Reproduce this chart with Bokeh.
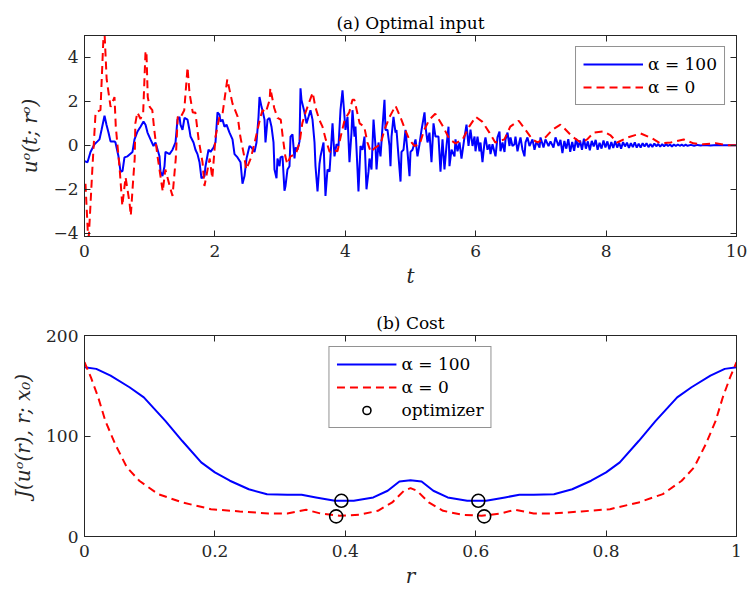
from bokeh.plotting import figure
from bokeh.models import LinearAxis, FixedTicker, Range1d
from bokeh.layouts import column
from bokeh.embed import file_html
from bokeh.resources import INLINE

FONT = "DejaVu Serif"
AXC = "#262626"

# ---------------- data: panel (a) ----------------
t_a100 = [0.0, 0.046, 0.092, 0.153, 0.199, 0.23, 0.261, 0.307, 0.337, 0.368, 0.399, 0.46, 0.475, 0.521, 0.552,
          0.583, 0.613, 0.66, 0.736, 0.767, 0.813, 0.859, 0.905, 0.936, 0.966, 1.012, 1.058, 1.089, 1.15, 1.166,
          1.196, 1.227, 1.242, 1.304, 1.35, 1.396, 1.426, 1.457, 1.472, 1.503, 1.534, 1.58, 1.61, 1.626, 1.672,
          1.702, 1.733, 1.764, 1.794, 1.84, 1.856, 1.902, 1.933, 1.979, 2.009, 2.04, 2.071, 2.086, 2.117, 2.147,
          2.178, 2.224, 2.27, 2.301, 2.347, 2.393, 2.423, 2.454, 2.485, 2.531, 2.561, 2.607, 2.638, 2.669, 2.684,
          2.715, 2.73, 2.761, 2.776, 2.807, 2.837, 2.868, 2.899, 2.914, 2.945, 2.96, 2.991, 3.006, 3.037, 3.067,
          3.083, 3.113, 3.144, 3.16, 3.19, 3.221, 3.236, 3.267, 3.298, 3.313, 3.328, 3.374, 3.405, 3.436, 3.466,
          3.497, 3.528, 3.543, 3.574, 3.604, 3.62, 3.666, 3.696, 3.727, 3.758, 3.773, 3.804, 3.834, 3.865, 3.896,
          3.926, 3.957, 3.988, 4.003, 4.034, 4.064, 4.095, 4.11, 4.141, 4.156, 4.187, 4.202, 4.233, 4.264, 4.294,
          4.325, 4.356, 4.371, 4.402, 4.433, 4.463, 4.479, 4.509, 4.54, 4.571, 4.601, 4.617, 4.647, 4.678, 4.693,
          4.709, 4.739, 4.77, 4.785, 4.816, 4.847, 4.862, 4.893, 4.923, 4.954, 4.985, 5.0, 5.031, 5.077, 5.107,
          5.138, 5.169, 5.215, 5.23, 5.261, 5.291, 5.322, 5.353, 5.383, 5.429, 5.46, 5.491, 5.521, 5.552, 5.583,
          5.598, 5.629, 5.675, 5.69, 5.721, 5.752, 5.782, 5.828, 5.859, 5.89, 5.92, 5.951, 5.982, 5.997, 6.028,
          6.058, 6.074, 6.104, 6.135, 6.15, 6.181, 6.212, 6.227, 6.258, 6.304, 6.334, 6.365, 6.38, 6.411, 6.442,
          6.457, 6.488, 6.518, 6.534, 6.564, 6.595, 6.61, 6.641, 6.672, 6.687, 6.718, 6.748, 6.764, 6.794, 6.825,
          6.871, 6.902, 6.933, 6.979, 6.994, 7.04, 7.07, 7.117, 7.147, 7.193, 7.224, 7.27,
          7.30, 7.33, 7.36, 7.39, 7.42, 7.45, 7.48, 7.51, 7.54, 7.57, 7.60, 7.63, 7.66, 7.69, 7.72, 7.75, 7.78,
          7.81, 7.84, 7.87, 7.90, 7.93, 7.96, 7.99, 8.02, 8.05, 8.08, 8.11, 8.14, 8.17, 8.20, 8.23, 8.26, 8.29,
          8.32, 8.35, 8.38, 8.41, 8.44, 8.47, 8.50, 8.53, 8.56, 8.59, 8.62, 8.65, 8.68, 8.71, 8.74, 8.77, 8.80,
          8.83, 8.86, 8.89, 8.92, 8.95, 8.98, 9.01, 9.04, 9.07, 9.10, 9.13, 9.16, 9.19, 9.22, 9.25, 9.30, 9.35,
          9.40, 9.45, 9.50, 9.60, 9.70, 9.80, 10.0]
u_a100 = [-0.72, -0.77, -0.3, 0.05, 0.18, 0.27, 0.7, 1.35, 0.94, 0.58, 0.18, 0.18, 0.13, -0.5, -1.2,
          -1.17, -0.55, -0.5, -0.3, 0.27, 0.63, 0.85, 1.08, 0.94, 0.58, 0.27, -0.03, 0.13, -0.5, -1.2,
          -1.4, -0.95, -0.3, -0.4, -0.2, 0.13, 1.17, 1.3, 0.94, 0.7, 1.25, 1.17, 0.7, 0.4, 0.13,
          -0.2, -0.4, -0.77, -1.5, -1.4, -0.95, -0.2, -0.3, -0.1, 0.13, 1.5, 1.4, 1.08, 1.17, 0.85,
          0.94, 0.58, 0.27, -0.4, -0.55, -0.77, -1.75, -1.4, -0.6, -0.03, -0.1, -0.3, 0.13, 1.3, 2.2,
          1.75, 1.6, 1.17, 0.13, 1.17, 1.25, 0.85, 0.13, -1.1, -1.5, -0.6, -0.95, -0.55, -0.5, -2.07,
          -1.85, -1.1, -0.95, 0.4, 0.5, -0.6, -0.1, -0.2, 0.18, 2.6, 2.07, 1.5, 1.0, 1.3, 1.6,
          1.17, 0.13, -0.95, -2.1, -0.85, -0.5, 0.13, -2.3, -1.1, -1.2, -0.5, 1.0, -0.5, 0.05, -0.03,
          1.6, 2.5, 1.3, 0.7, 1.3, -0.77, 0.58, 1.6, 0.4, 0.85, -1.1, -2.1, -0.03, -0.2, 0.4,
          -2.0, -1.2, -0.6, -1.1, 1.17, -0.03, -1.1, 0.13, -0.5, 0.85, 2.07, 0.7, 0.7, -0.03, -0.95,
          0.4, 1.3, 0.58, 0.7, -0.5, -1.65, -0.3, -0.2, 0.7, -0.3, -1.4, -0.3, -0.2, 0.27, -0.5,
          0.05, 0.7, 1.5, 0.85, 0.13, 0.58, -0.77, 1.0, 0.4, 0.4, -1.2, 0.27, -1.1, -0.03, 0.85,
          -0.95, -0.2, -0.5, 0.27, -0.27, 0.13, -0.6, 0.36, 0.94, -0.03, 0.72, -0.03, 0.4, -0.27, 0.4,
          -0.27, 0.13, -0.77, 0.13, 0.36, -0.2, 0.05, -0.4, 0.05, -0.5, 0.36, 0.63, -0.27, 0.13, -0.3,
          0.27, 0.58, -0.03, 0.36, -0.03, 0.05, 0.4, -0.27, 0.18, 0.36, -0.2, -0.5, 0.13, 0.36, -0.03,
          0.27, -0.2, 0.18, -0.1, 0.36, -0.1, 0.27, -0.03, 0.18, -0.1, 0.36, -0.03,
          0.25, -0.35, 0.2, -0.15, 0.28, -0.3, 0.15, -0.25, 0.3, -0.1, 0.22, -0.2, 0.3, -0.15, 0.18, -0.22, 0.2,
          -0.05, 0.25, -0.2, 0.12, -0.15, 0.22, -0.1, 0.18, -0.18, 0.15, -0.12, 0.2, -0.1, 0.12, -0.15, 0.15, -0.05,
          0.12, -0.12, 0.1, -0.08, 0.14, -0.1, 0.08, -0.1, 0.1, -0.05, 0.1, -0.08, 0.06, -0.07, 0.08, -0.04, 0.06,
          -0.06, 0.05, -0.04, 0.06, -0.03, 0.04, -0.05, 0.04, -0.03, 0.04, -0.02, 0.03, -0.03, 0.03, -0.02, 0.02, -0.02,
          0.02, -0.01, 0.01, -0.01, 0.01, 0.0, 0.0]

t_a0 = [0.015, 0.06, 0.12, 0.17, 0.245, 0.30, 0.34, 0.40, 0.46, 0.48, 0.54, 0.58, 0.63, 0.69, 0.71, 0.74,
        0.77, 0.78, 0.81, 0.86, 0.90, 0.935, 0.95, 0.97, 1.0, 1.04, 1.07, 1.12, 1.17, 1.20, 1.24, 1.32,
        1.35, 1.40, 1.43, 1.47, 1.53, 1.58, 1.61, 1.66, 1.70, 1.75, 1.81, 1.84, 1.92, 1.96, 2.01, 2.07,
        2.12, 2.19, 2.27, 2.35, 2.39, 2.45, 2.48, 2.55, 2.62, 2.70, 2.73, 2.78, 2.84, 2.85, 2.91, 2.96,
        3.01, 3.04, 3.08, 3.11, 3.16, 3.24, 3.30, 3.34, 3.39, 3.50, 3.54, 3.60, 3.65, 3.70, 3.76, 3.80,
        3.88, 3.93, 3.99, 4.06, 4.11, 4.14, 4.22, 4.29, 4.34, 4.39, 4.46, 4.54, 4.60, 4.68, 4.77, 4.85,
        4.92, 4.98, 5.06, 5.14, 5.21, 5.29, 5.38, 5.49, 5.60, 5.69, 5.80, 5.90, 6.00, 6.10, 6.21, 6.30,
        6.44, 6.53, 6.66, 6.76, 6.87, 6.95, 7.07, 7.18, 7.30, 7.35, 7.48, 7.61, 7.71, 7.81, 7.96, 8.07,
        8.17, 8.33, 8.53, 8.71, 8.83, 8.99, 9.19, 9.34, 9.49, 9.68, 9.86, 10.0]
u_a0 = [-1.75, -4.5, -1.1, 1.5, 1.6, 5.6, 3.0, 1.75, 2.2, 0.85, -1.1, -2.75, -1.45, -2.6, -3.2, -1.85,
        -0.6, 1.0, 1.5, 1.2, 1.5, 4.2, 4.3, 2.2, 1.75, 1.6, 0.7, -0.5, -1.5, -2.1, -1.1, -2.0,
        -2.3, -0.6, 1.3, 1.25, 1.6, 3.55, 2.4, 1.5, 1.5, 0.27, -0.77, -1.85, -0.6, -1.5, 0.4, 1.3,
        1.5, 3.0, 1.9, 1.3, 0.4, -0.5, -1.1, -0.6, 0.27, 1.3, 1.6, 1.5, 2.07, 2.6, 1.7, 1.25,
        1.17, 0.4, -0.5, -0.85, -0.5, -0.4, 0.13, 1.0, 1.5, 2.4, 1.75, 1.17, 0.85, 0.27, -0.3, -0.2,
        -0.27, 0.4, 1.17, 1.5, 2.07, 2.07, 1.0, 0.85, 0.13, -0.3, -0.1, 0.05, 0.7, 1.3, 1.8, 1.25,
        0.7, 0.27, -0.03, 0.05, 0.7, 1.17, 1.44, 0.9, 0.27, 0.09, 0.27, 0.85, 1.3, 1.08, 0.58, 0.13,
        0.27, 0.85, 1.12, 0.72, 0.27, 0.13, 0.36, 0.72, 0.94, 0.8, 0.4, 0.13, 0.27, 0.58, 0.63, 0.45,
        0.13, 0.36, 0.54, 0.31, 0.09, 0.13, 0.27, 0.09, 0.05, 0.1, 0.0, 0.0]

# ---------------- data: panel (b) ----------------
r_a100 = [0.0, 0.018, 0.04, 0.069, 0.091, 0.124, 0.15, 0.179, 0.2, 0.223, 0.252, 0.28, 0.311, 0.333, 0.355,
          0.384, 0.413, 0.443, 0.465, 0.483, 0.5, 0.517, 0.535, 0.557, 0.587, 0.616, 0.645, 0.667, 0.689,
          0.72, 0.748, 0.777, 0.8, 0.821, 0.85, 0.876, 0.909, 0.931, 0.96, 0.982, 1.0]
J_a100 = [168.4, 166.8, 160.0, 148.5, 138.5, 115.0, 95.0, 73.8, 63.8, 55.5, 47.0, 42.0, 41.5, 41.5, 38.9,
          35.5, 35.5, 38.9, 45.5, 54.8, 56.0, 54.8, 45.5, 38.9, 35.5, 35.5, 38.9, 41.5, 41.5,
          42.0, 47.0, 55.5, 63.8, 73.8, 95.0, 115.0, 138.5, 148.5, 160.0, 166.8, 168.4]
r_a0 = [0.0, 0.01, 0.021, 0.032, 0.047, 0.065, 0.084, 0.113, 0.15, 0.194, 0.238, 0.282, 0.311, 0.34, 0.362,
        0.391, 0.421, 0.45, 0.472, 0.49, 0.5, 0.51, 0.528, 0.55, 0.579, 0.609, 0.638, 0.66, 0.689, 0.718,
        0.762, 0.806, 0.85, 0.887, 0.916, 0.935, 0.953, 0.968, 0.979, 0.99, 1.0]
J_a0 = [173.4, 158.0, 138.5, 115.0, 92.0, 68.8, 55.5, 42.2, 33.9, 27.2, 24.9, 22.9, 22.9, 26.6, 22.9,
        20.6, 21.6, 25.6, 33.9, 45.5, 48.2, 45.5, 33.9, 25.6, 21.6, 20.6, 22.9, 26.6, 22.9, 22.9,
        24.9, 27.2, 33.9, 42.2, 55.5, 68.8, 92.0, 115.0, 138.5, 158.0, 173.4]
r_opt = [0.386, 0.394, 0.604, 0.613]
J_opt = [20.0, 35.5, 35.5, 20.0]

xt_a = [0, 2, 4, 6, 8, 10]
yt_a = [-4, -2, 0, 2, 4]
xt_b = [0, 0.2, 0.4, 0.6, 0.8, 1]
yt_b = [0, 100, 200]


def mirror_axis(ticks):
    return LinearAxis(ticker=FixedTicker(ticks=ticks), major_label_text_font_size="1px",
                      major_label_text_color=None, major_label_standoff=0,
                      major_tick_in=6, major_tick_out=0, minor_tick_line_color=None,
                      axis_line_color=AXC, major_tick_line_color=AXC)


def style(p, xt, yt, xlabel, ylabel):
    p.grid.visible = False
    p.outline_line_color = AXC
    p.outline_line_width = 1
    p.background_fill_color = "white"
    p.border_fill_color = "white"
    xb = p.below[0]
    yl = p.left[0]
    for ax in (xb, yl):
        ax.axis_line_color = AXC
        ax.major_tick_line_color = AXC
        ax.major_tick_in = 6
        ax.major_tick_out = 0
        ax.minor_tick_line_color = None
        ax.major_label_text_font = FONT
        ax.major_label_text_font_size = "17px"
        ax.major_label_text_color = AXC
        ax.axis_label_text_font = FONT
        ax.axis_label_text_font_size = "20px"
        ax.axis_label_text_font_style = "italic"
        ax.axis_label_text_color = AXC
    xb.ticker = FixedTicker(ticks=xt)
    yl.ticker = FixedTicker(ticks=yt)
    xb.axis_label = xlabel
    yl.axis_label = ylabel
    xb.major_label_standoff = 8
    yl.major_label_standoff = 6
    xb.axis_label_standoff = 4
    yl.axis_label_standoff = 8
    p.add_layout(mirror_axis(xt), "above")
    p.add_layout(mirror_axis(yt), "right")
    p.title.align = "center"
    p.title.text_font = FONT
    p.title.text_font_size = "17px"
    p.title.text_font_style = "normal"
    p.title.text_color = "black"
    p.title.standoff = 5


p1 = figure(width=748, height=290, x_range=Range1d(0, 10), y_range=Range1d(-4.15, 5),
            output_backend="svg", toolbar_location=None, title="(a) Optimal input",
            min_border_left=84, min_border_right=12, min_border_top=35, min_border_bottom=53)
p1.line(t_a100, u_a100, color="#0000FF", line_width=2, legend_label="α = 100")
p1.line(t_a0, u_a0, color="#FF0000", line_width=2, line_dash="8 5", legend_label="α = 0")
style(p1, xt_a, yt_a, "t", "uᵒ(t; rᵒ)")

p2 = figure(width=748, height=306, x_range=Range1d(0, 1), y_range=Range1d(0, 200),
            output_backend="svg", toolbar_location=None, title="(b) Cost",
            min_border_left=84, min_border_right=12, min_border_top=45, min_border_bottom=60)
p2.line(r_a100, J_a100, color="#0000FF", line_width=2, legend_label="α = 100")
p2.line(r_a0, J_a0, color="#FF0000", line_width=2, line_dash="8 5", legend_label="α = 0")
p2.scatter(r_opt, J_opt, marker="circle", size=13, fill_color=None, line_color="black",
           line_width=1.6, legend_label="optimizer")
style(p2, xt_b, yt_b, "r", "J(uᵒ(r), r; x₀)")

for p, loc in ((p1, "top_right"), (p2, "top_center")):
    lg = p.legend[0]
    lg.location = loc
    lg.label_text_font = FONT
    lg.label_text_font_size = "17px"
    lg.label_text_color = "black"
    lg.border_line_color = AXC
    lg.border_line_width = 1
    lg.glyph_width = 60
    lg.spacing = 3
    lg.padding = 7
    lg.margin = 11
    lg.background_fill_alpha = 1

layout = column(p1, p2)
open("out.html", "w").write(file_html(layout, INLINE))
